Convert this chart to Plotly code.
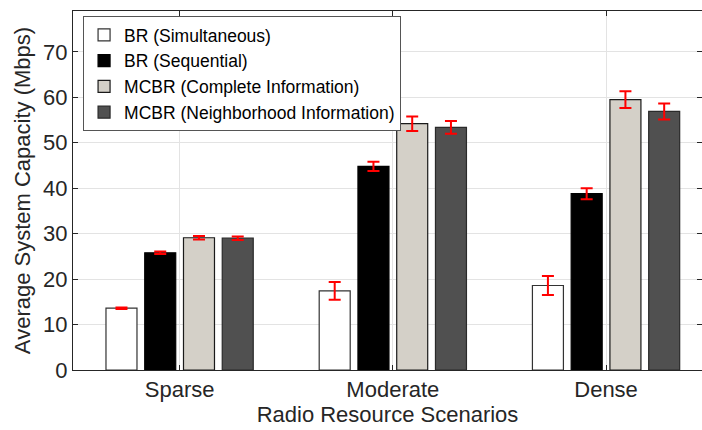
import plotly.graph_objects as go

categories = ["Sparse", "Moderate", "Dense"]
series_names = ["BR (Simultaneous)", "BR (Sequential)",
                "MCBR (Complete Information)", "MCBR (Neighborhood Information)"]
br_sim = [13.6, 17.4, 18.6]
br_seq = [25.8, 44.8, 38.8]
mcbr_complete = [29.1, 54.2, 59.5]
mcbr_neighbor = [29.0, 53.4, 56.9]
err_br_sim = [0.15, 1.95, 2.1]
err_br_seq = [0.3, 1.0, 1.2]
err_mcbr_complete = [0.4, 1.6, 1.85]
err_mcbr_neighbor = [0.4, 1.4, 1.75]

values = [br_sim, br_seq, mcbr_complete, mcbr_neighbor]
errors = [err_br_sim, err_br_seq, err_mcbr_complete, err_mcbr_neighbor]
fills = ["#ffffff", "#000000", "#d4d0c8", "#505050"]
borders = ["#333333", "#000000", "#1a1a1a", "#2a2a2a"]

fig = go.Figure()
for name, v, e, fc, bc in zip(series_names, values, errors, fills, borders):
    fig.add_trace(go.Bar(
        x=categories, y=v, name=name,
        marker=dict(color=fc, line=dict(color=bc, width=1.2)),
        error_y=dict(type="data", array=e, color="#ff0000", thickness=2, width=6),
    ))

font_family = "Liberation Sans, Arial, sans-serif"
axis_color = "#262626"

fig.update_layout(
    width=702, height=430,
    margin=dict(l=73, r=0, t=11, b=60),
    paper_bgcolor="white", plot_bgcolor="white",
    barmode="group", bargap=0.273, bargroupgap=0.2,
    font=dict(family=font_family, size=22, color=axis_color),
    showlegend=True,
    legend=dict(
        x=0.016, y=0.986, xanchor="left", yanchor="top",
        bgcolor="white", bordercolor="#555555", borderwidth=1,
        font=dict(size=17.5, color="#000000"),
        tracegroupgap=0, itemwidth=30,
    ),
    xaxis=dict(
        range=[-0.5, 2.45], showgrid=True, gridcolor="#e3e3e3", gridwidth=1,
        showline=True, linecolor=axis_color, linewidth=1, mirror="ticks",
        ticks="inside", ticklen=5, tickcolor=axis_color, automargin=False,
        tickfont=dict(size=22, color=axis_color),
        title=dict(text="Radio Resource Scenarios", font=dict(size=22, color=axis_color), standoff=4),
    ),
    yaxis=dict(
        range=[0, 79], tickvals=[0, 10, 20, 30, 40, 50, 60, 70],
        showgrid=True, gridcolor="#e3e3e3", gridwidth=1,
        showline=True, linecolor=axis_color, linewidth=1, mirror="ticks",
        ticks="inside", ticklen=5, tickcolor=axis_color, automargin=False,
        tickfont=dict(size=22, color=axis_color), zeroline=False,
        title=dict(text="Average System Capacity (Mbps)", font=dict(size=22, color=axis_color), standoff=6),
    ),
)

fig.write_html("out.html")
